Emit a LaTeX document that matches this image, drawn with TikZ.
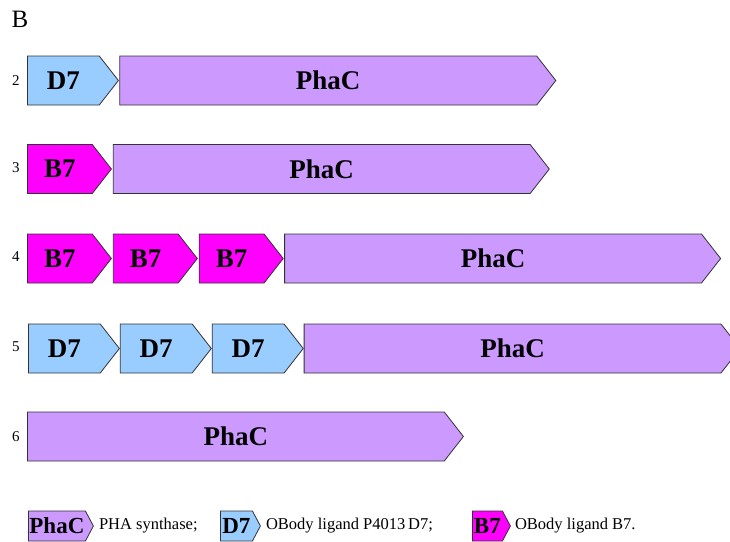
\documentclass[tikz,border=0pt]{standalone}
\usepackage{fontspec}
\setmainfont{Liberation Serif}
\usetikzlibrary{shapes.symbols,positioning}

\definecolor{phacpurple}{HTML}{CC99FF}
\definecolor{dsevblue}{HTML}{99CCFF}
\definecolor{bsevpink}{HTML}{FF00FF}

\tikzset{
    gene/.style = {signal, signal to=east, signal pointer angle=104,
                   draw=black!80, line width=0.8pt, inner sep=0pt,
                   minimum height=49pt, anchor=west,
                   font=\fontsize{27}{27}\selectfont\bfseries},
    phac/.style   = {gene, fill=phacpurple, minimum width=436pt},
    dseven/.style = {gene, fill=dsevblue, minimum width=91pt},
    bseven/.style = {gene, fill=bsevpink, minimum width=84pt},
    rowlabel/.style = {font=\fontsize{15}{15}\selectfont},
    keybox/.style = {gene, minimum height=30pt, signal pointer angle=124,
                     font=\fontsize{23}{23}\selectfont\bfseries},
    keytext/.style = {anchor=west, inner sep=0pt,
                      font=\fontsize{16.5}{16.5}\selectfont}
}

\begin{document}
\begin{tikzpicture}[x=1pt, y=-1pt]
    \clip (0,0) rectangle (730,541);
    \node[font=\fontsize{25}{25}\selectfont] (panel) at (20,19) {B};

    % construct 2
    \node[rowlabel] (l2) at (16,81) {2};
    \node[dseven] (d21) at (27,80.5) {D7};
    \node[phac, right=0.5pt of d21] (p2) {PhaC};

    % construct 3
    \node[rowlabel] (l3) at (16,168) {3};
    \node[bseven] (b31) at (27,169) {B7};
    \node[phac, right=1pt of b31] (p3) {PhaC};

    % construct 4
    \node[rowlabel] (l4) at (16,257) {4};
    \node[bseven] (b41) at (27,258.5) {B7};
    \node[bseven, right=1pt of b41] (b42) {B7};
    \node[bseven, right=1pt of b42] (b43) {B7};
    \node[phac, right=0.5pt of b43] (p4) {PhaC};

    % construct 5
    \node[rowlabel] (l5) at (16,347) {5};
    \node[dseven] (d51) at (28,348.5) {D7};
    \node[dseven, right=0pt of d51] (d52) {D7};
    \node[dseven, right=0pt of d52] (d53) {D7};
    \node[phac, right=0pt of d53] (p5) {PhaC};

    % construct 6
    \node[rowlabel] (l6) at (16,437) {6};
    \node[phac] (p6) at (27,436.5) {PhaC};

    % key
    \node[keybox, fill=phacpurple, minimum width=65pt] (kp) at (28,526) {PhaC};
    \node[keytext, right=5pt of kp] (kpt) {PHA synthase;};
    \node[keybox, fill=dsevblue, minimum width=40pt] (kd) at (220,526) {D7};
    \node[keytext, right=5pt of kd] (kdt) {OBody ligand P4013\,D7;};
    \node[keybox, fill=bsevpink, minimum width=38pt] (kb) at (472,526) {B7};
    \node[keytext, right=4pt of kb] (kbt) {OBody ligand B7.};
\end{tikzpicture}
\end{document}
